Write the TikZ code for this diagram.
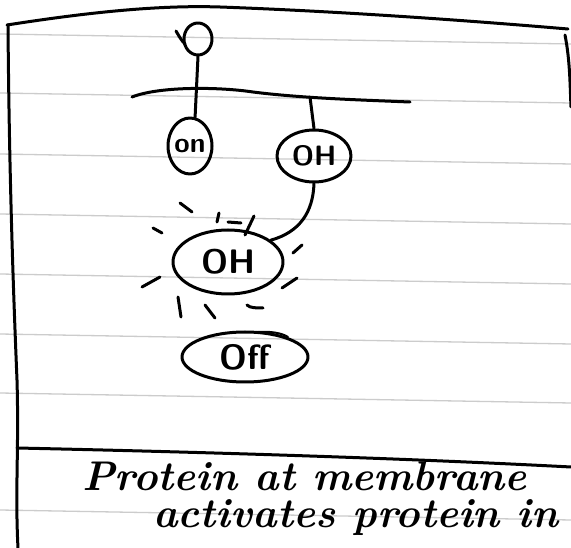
\documentclass[tikz,border=0pt]{standalone}
\usetikzlibrary{shapes.geometric}
\begin{document}
\begin{tikzpicture}[x=1pt,y=-1pt,
  pen/.style={line width=3pt, line cap=round, line join=round},
  rule/.style={line width=1.3pt, gray!40},
  blob/.style={pen, draw, ellipse, inner sep=0pt, font=\sffamily\bfseries},
  ray/.style={line width=3pt, line cap=round},
  script/.style={anchor=base west, inner sep=0pt, align=left,
    font=\fontsize{41.5}{37}\selectfont\bfseries\itshape}]
\useasboundingbox (0,0) rectangle (571,548);
\fill[white] (0,0) rectangle (571,548);

% ruled paper
\foreach \yl in {34,93,154,214,274,334,393,510}
  \draw[rule] (0,\yl) -- (571,\yl+10);

% frame of the card
\draw[pen] (7,25) .. controls (90,12) and (160,5) .. (220,7)
  .. controls (330,11) and (450,19) .. (568,29);
\draw[pen] (565,35) .. controls (570,60) and (570,85) .. (571,107);
\draw[pen] (8,25) .. controls (9,150) and (12,260) .. (17,380)
  .. controls (19,450) and (15,490) .. (18,548);
\draw[pen] (17,448) .. controls (200,452) and (400,458) .. (571,467);

% membrane
\draw[pen] (132,97) .. controls (160,86) and (220,87) .. (253,92)
  .. controls (300,98) and (360,100) .. (410,102);
\coordinate (m2) at (310,97);

% receptor head above the membrane
\node[pen, draw, ellipse, minimum width=28pt, minimum height=32pt, inner sep=0pt] (head) at (198,39) {};
\draw[pen] (176,31) .. controls (179,36) and (181,40) .. (185,44);

% proteins
\node[blob, minimum width=44pt, minimum height=56pt,
  font=\sffamily\bfseries\fontsize{28}{28}\selectfont] (on) at (190,146) {on};
\node[blob, minimum width=74pt, minimum height=52pt,
  font=\sffamily\bfseries\fontsize{28}{28}\selectfont] (oh1) at (314,156) {OH};
\node[blob, minimum width=110pt, minimum height=64pt,
  font=\sffamily\bfseries\fontsize{34}{34}\selectfont] (big) at (228,262) {OH};
\node[blob, minimum width=126pt, minimum height=50pt,
  font=\sffamily\bfseries\fontsize{35}{35}\selectfont] (off) at (245,357) {Off};

% connectors
\draw[pen] (head.south) -- (on.80);
\draw[pen] (m2) -- (oh1.north);
\draw[pen] (oh1.south) .. controls (313,212) and (300,232) .. (big.27);

% glow around the active protein
\draw[ray] (180,203) -- (192,212);
\draw[ray] (219,213) -- (217,222);
\draw[ray] (254,216) -- (245,235);
\draw[ray] (228,222) -- (241,223);
\draw[ray] (153,228) -- (162,233);
\draw[ray] (302,245) -- (293,253);
\draw[ray] (142,287) -- (160,277);
\draw[ray] (297,278) -- (282,288);
\draw[ray] (178,297) -- (181,317);
\draw[ray] (205,305) -- (215,318);
\draw[ray] (247,305) .. controls (250,308) and (256,308) .. (263,308);

% overlap of the pen on the inactive protein
\draw[line width=2pt, line cap=round] (258,332) .. controls (270,331) and (282,333) .. (288,337);

% caption
\node[script] (cap) at (82,527) {Protein at membrane\\\hspace*{71pt}activates protein in};
\end{tikzpicture}
\end{document}
